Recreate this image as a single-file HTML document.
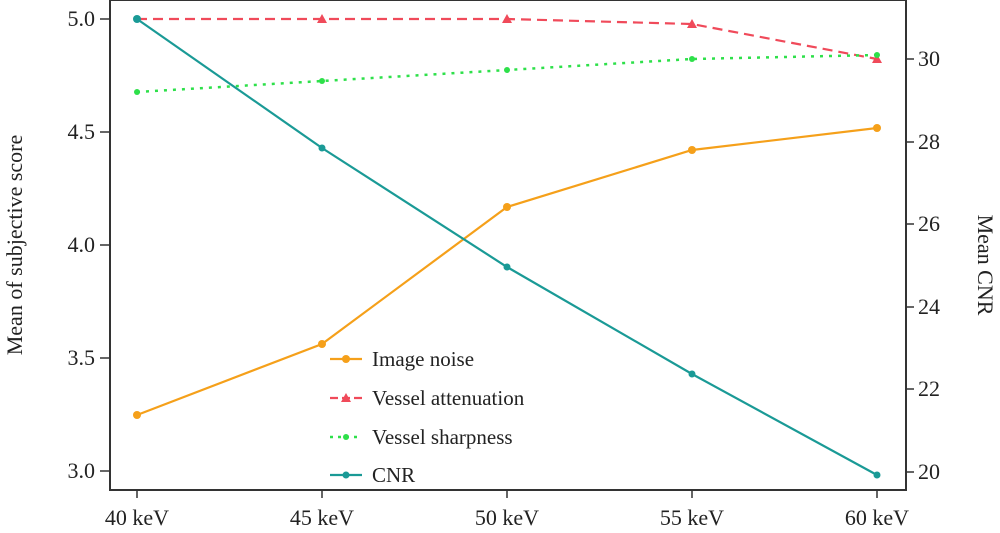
<!DOCTYPE html>
<html><head><style>body{margin:0;background:#fff}svg text{font-family:"Liberation Serif",serif;fill:#222}</style></head>
<body><svg width="1000" height="528" viewBox="0 0 1000 528">
<rect x="110" y="0" width="796" height="490" fill="none" stroke="#333" stroke-width="2"/>
<g stroke="#333" stroke-width="1.5">
<line x1="100" y1="19" x2="110" y2="19"/><line x1="100" y1="132" x2="110" y2="132"/><line x1="100" y1="245" x2="110" y2="245"/><line x1="100" y1="358" x2="110" y2="358"/><line x1="100" y1="471" x2="110" y2="471"/>
<line x1="906" y1="59" x2="914" y2="59"/><line x1="906" y1="142" x2="914" y2="142"/><line x1="906" y1="224" x2="914" y2="224"/><line x1="906" y1="307" x2="914" y2="307"/><line x1="906" y1="389" x2="914" y2="389"/><line x1="906" y1="472" x2="914" y2="472"/>
<line x1="137" y1="490" x2="137" y2="498"/><line x1="322" y1="490" x2="322" y2="498"/><line x1="507" y1="490" x2="507" y2="498"/><line x1="692" y1="490" x2="692" y2="498"/><line x1="877" y1="490" x2="877" y2="498"/>
</g>
<g font-size="22" text-anchor="end"><text x="95" y="26">5.0</text><text x="95" y="139">4.5</text><text x="95" y="252">4.0</text><text x="95" y="365">3.5</text><text x="95" y="478">3.0</text></g>
<g font-size="22"><text x="918" y="66">30</text><text x="918" y="149">28</text><text x="918" y="231">26</text><text x="918" y="314">24</text><text x="918" y="396">22</text><text x="918" y="479">20</text></g>
<g font-size="22" text-anchor="middle"><text x="137" y="525">40 keV</text><text x="322" y="525">45 keV</text><text x="507" y="525">50 keV</text><text x="692" y="525">55 keV</text><text x="877" y="525">60 keV</text></g>
<text font-size="22" transform="translate(22,245) rotate(-90)" text-anchor="middle">Mean of subjective score</text>
<text font-size="22" transform="translate(978,265) rotate(90)" text-anchor="middle">Mean CNR</text>
<polyline points="137,415 322,344 507,207 692,150 877,128" fill="none" stroke="#f5a01a" stroke-width="2.2"/>
<g fill="#f5a01a"><circle cx="137" cy="415" r="4"/><circle cx="322" cy="344" r="4"/><circle cx="507" cy="207" r="4"/><circle cx="692" cy="150" r="4"/><circle cx="877" cy="128" r="4"/></g>
<polyline points="137,19 322,19 507,19 692,24 877,59" fill="none" stroke="#f04a5a" stroke-width="2.2" stroke-dasharray="10,6"/>
<g fill="#f04a5a"><path d="M322,14l5,9h-10z"/><path d="M507,14l5,9h-10z"/><path d="M692,19l5,9h-10z"/><path d="M877,54l5,9h-10z"/></g>
<polyline points="137,92 322,81 507,70 692,59 877,55" fill="none" stroke="#2ee04a" stroke-width="2.5" stroke-dasharray="3,6"/>
<g fill="#2ee04a"><circle cx="137" cy="92" r="3"/><circle cx="322" cy="81" r="3"/><circle cx="507" cy="70" r="3"/><circle cx="692" cy="59" r="3"/><circle cx="877" cy="55" r="3"/></g>
<polyline points="137,19 322,148 507,267 692,374 877,475" fill="none" stroke="#1a9a96" stroke-width="2.2"/>
<g fill="#1a9a96"><circle cx="137" cy="19" r="4"/><circle cx="322" cy="148" r="3.5"/><circle cx="507" cy="267" r="3.5"/><circle cx="692" cy="374" r="3.5"/><circle cx="877" cy="475" r="3.5"/></g>
<line x1="330" y1="359" x2="362" y2="359" stroke="#f5a01a" stroke-width="2.2"/><circle cx="346" cy="359" r="4" fill="#f5a01a"/>
<line x1="330" y1="398" x2="362" y2="398" stroke="#f04a5a" stroke-width="2.2" stroke-dasharray="8,4"/><path d="M346,393l5,9h-10z" fill="#f04a5a"/>
<line x1="330" y1="437" x2="362" y2="437" stroke="#2ee04a" stroke-width="2.5" stroke-dasharray="3,5"/><circle cx="346" cy="437" r="3" fill="#2ee04a"/>
<line x1="330" y1="475" x2="362" y2="475" stroke="#1a9a96" stroke-width="2.2"/><circle cx="346" cy="475" r="3.5" fill="#1a9a96"/>
<g font-size="21"><text x="372" y="366">Image noise</text><text x="372" y="405">Vessel attenuation</text><text x="372" y="444">Vessel sharpness</text><text x="372" y="482">CNR</text></g>
</svg></body></html>
